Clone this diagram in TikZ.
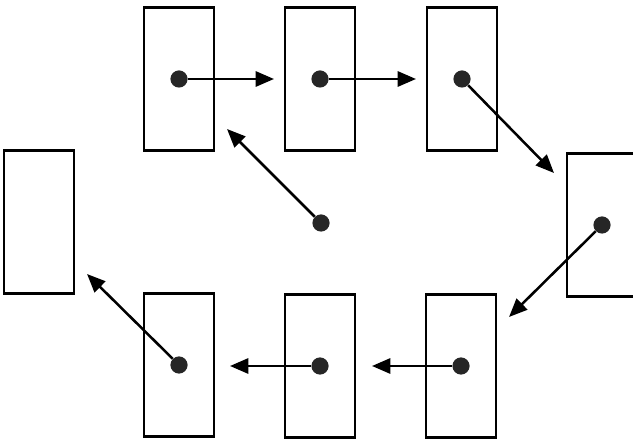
\documentclass[tikz,border=0pt]{standalone}
\usepackage{tikz}
\usetikzlibrary{arrows.meta, positioning, calc}
\tikzset{
	cell/.style={rectangle, draw, line width=2pt, minimum width=1.75cm, minimum height=3.575cm, inner sep=0pt},
	dot/.style={circle, fill=black!85, draw=none, minimum size=4.3mm, inner sep=0pt},
	arr/.style={line width=1.8pt, -{Triangle[length=4.6mm, width=3.8mm]}}
}
\begin{document}
\begin{tikzpicture}[x=0.025cm, y=-0.025cm]
        \clip (0,0) rectangle (633,439);
        \node[cell] (top1) at (179, 79) {};
        \node[cell] (top2) at (320, 79) {};
        \node[cell] (top3) at (462, 79) {};
        \node[cell] (right) at (602, 225) {};
        \node[cell] (bot3) at (461, 366) {};
        \node[cell] (bot2) at (320, 366) {};
        \node[cell] (bot1) at (179, 365) {};
        \node[cell] (left) at (39, 222) {};

        \coordinate (t1) at (274, 79);
        \coordinate (t2) at (416, 79);
        \coordinate (t3) at (554, 173);
        \coordinate (t4) at (509, 317);
        \coordinate (t5) at (372, 366);
        \coordinate (t6) at (230, 366);
        \coordinate (t7) at (87, 274);
        \coordinate (t0) at (227, 129);

        \node[dot] (d1) at (top1) {};
        \node[dot] (d2) at (top2) {};
        \node[dot] (d3) at (top3) {};
        \node[dot] (d4) at (right) {};
        \node[dot] (d5) at (bot3) {};
        \node[dot] (d6) at (bot2) {};
        \node[dot] (d7) at (bot1) {};
        \node[dot] (d0) at (321, 223) {};

        \draw[arr] (d1) -- (t1);
        \draw[arr] (d2) -- (t2);
        \draw[arr] (d3) -- (t3);
        \draw[arr] (d4) -- (t4);
        \draw[arr] (d5) -- (t5);
        \draw[arr] (d6) -- (t6);
        \draw[arr] (d7) -- (t7);
        \draw[arr] (d0) -- (t0);
    \end{tikzpicture}
\end{document}
